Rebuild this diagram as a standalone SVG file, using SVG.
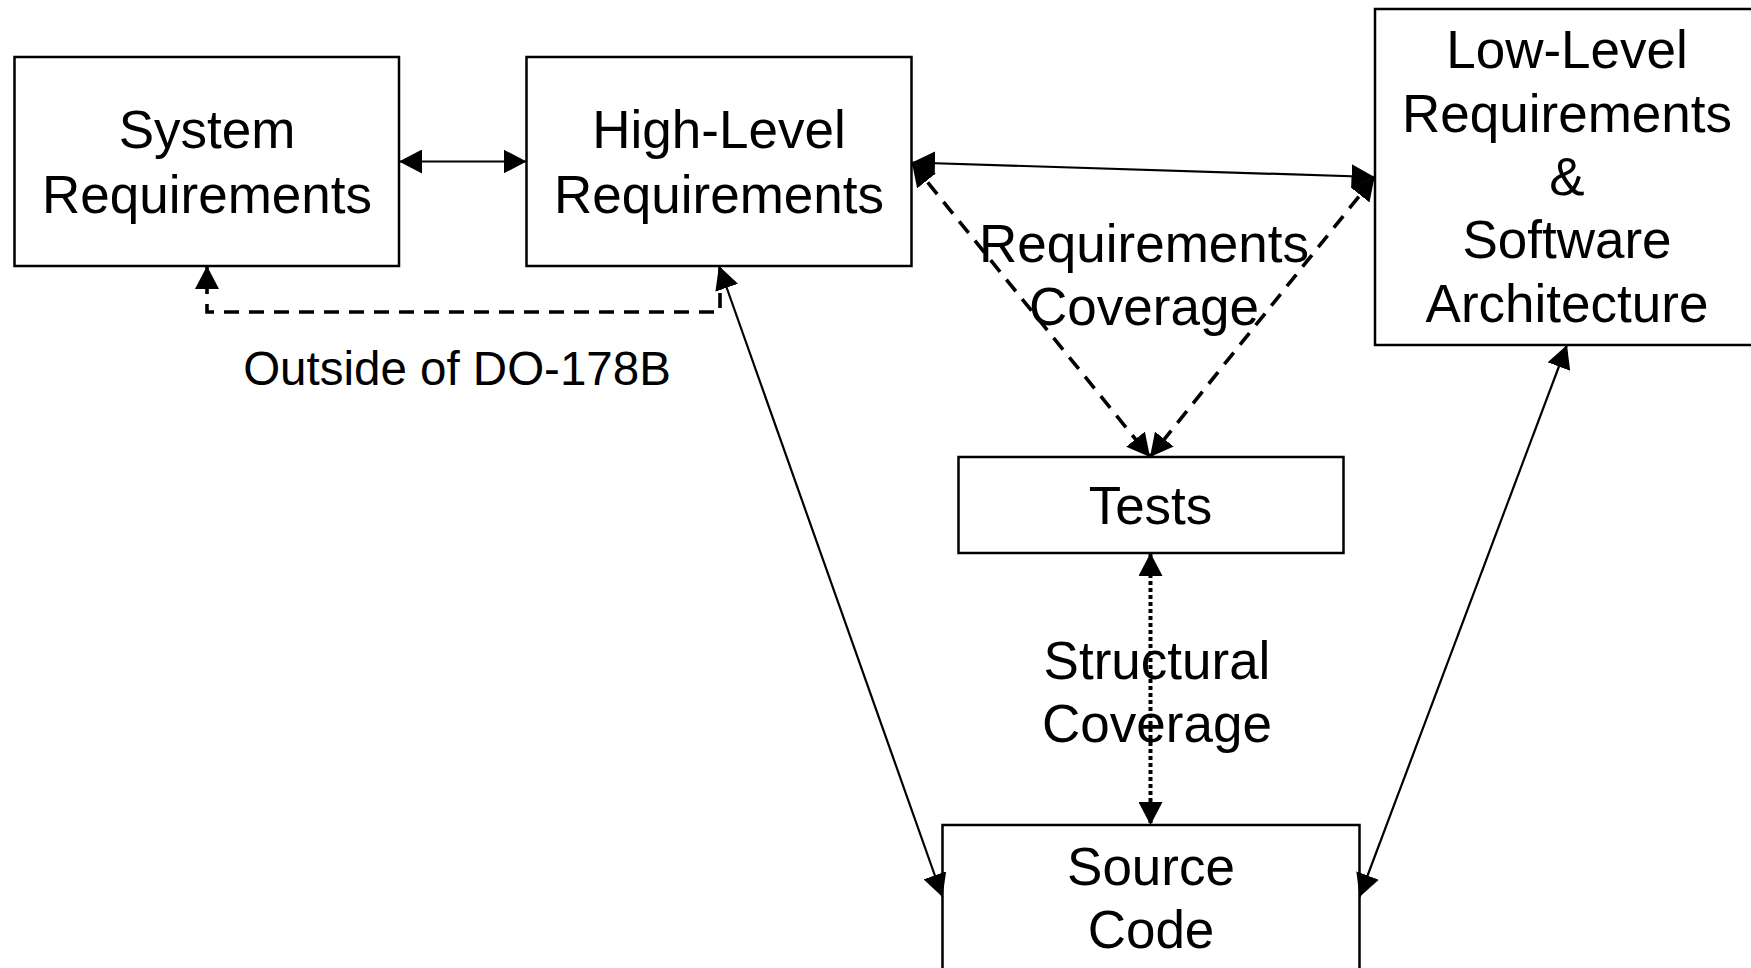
<svg xmlns="http://www.w3.org/2000/svg" width="1751" height="968" viewBox="0 0 1751 968">
<style>
  .box { fill: #ffffff; stroke: #000000; stroke-width: 2.5; }
  .t { font-family: "Liberation Sans", Arial, sans-serif; font-size: 53px; fill: #000000; text-anchor: middle; }
  .lbl { font-family: "Liberation Sans", Arial, sans-serif; font-size: 47.5px; fill: #000000; text-anchor: middle; }
  .solid { fill: none; stroke: #000000; stroke-width: 2.2; }
  .dash { fill: none; stroke: #000000; stroke-width: 3.6; stroke-dasharray: 15 10; }
  .dot { fill: none; stroke: #000000; stroke-width: 4; stroke-dasharray: 4 3; }
</style>
<defs>
  <marker id="ah" markerUnits="userSpaceOnUse" markerWidth="24" markerHeight="24" viewBox="0 0 24 24" refX="23" refY="12" orient="auto-start-reverse">
    <path d="M0,0 L23,12 L0,24 z" fill="#000000"/>
  </marker>
</defs>
<rect width="1751" height="968" fill="#ffffff"/>

<g id="node-system-requirements">
  <rect class="box" x="14.5" y="57" width="384.5" height="209"/>
  <text class="t" x="207" y="148">System</text>
  <text class="t" x="207" y="213">Requirements</text>
</g>
<g id="node-high-level-requirements">
  <rect class="box" x="526.5" y="57" width="385" height="209"/>
  <text class="t" x="719" y="148">High-Level</text>
  <text class="t" x="719" y="213">Requirements</text>
</g>
<g id="node-low-level-requirements">
  <rect class="box" x="1375" y="9" width="400" height="336"/>
  <text class="t" x="1567" y="68">Low-Level</text>
  <text class="t" x="1567" y="131.5">Requirements</text>
  <text class="t" x="1567" y="195">&amp;</text>
  <text class="t" x="1567" y="258">Software</text>
  <text class="t" x="1567" y="321.5">Architecture</text>
</g>
<g id="node-tests">
  <rect class="box" x="958.5" y="457" width="385" height="96"/>
  <text class="t" x="1150.5" y="524">Tests</text>
</g>
<g id="node-source-code">
  <rect class="box" x="942.5" y="825" width="417" height="200"/>
  <text class="t" x="1151" y="885">Source</text>
  <text class="t" x="1151" y="948">Code</text>
</g>

<g id="connectors">
  <line class="solid" x1="399" y1="161.5" x2="526.5" y2="161.5" marker-start="url(#ah)" marker-end="url(#ah)"/>
  <line class="solid" x1="912" y1="162.5" x2="1374.5" y2="177" marker-start="url(#ah)" marker-end="url(#ah)"/>
  <line class="dash" x1="912" y1="163" x2="1150" y2="457" marker-start="url(#ah)" marker-end="url(#ah)"/>
  <line class="dash" x1="1374.5" y1="177" x2="1150" y2="457" marker-start="url(#ah)" marker-end="url(#ah)"/>
  <path class="dash" d="M720,268 V312 H207 V266" marker-end="url(#ah)"/>
  <line class="solid" x1="719" y1="266" x2="942.5" y2="897" marker-start="url(#ah)" marker-end="url(#ah)"/>
  <line class="solid" x1="1567" y1="345" x2="1359.5" y2="897" marker-start="url(#ah)" marker-end="url(#ah)"/>
  <line class="dot" x1="1150.5" y1="553" x2="1150.5" y2="825" marker-start="url(#ah)" marker-end="url(#ah)"/>
</g>

<g id="labels">
  <text class="t" x="1144" y="262">Requirements</text>
  <text class="t" x="1144" y="325">Coverage</text>
  <text class="t" x="1157" y="679">Structural</text>
  <text class="t" x="1157" y="742">Coverage</text>
  <text class="lbl" x="457" y="385">Outside of DO-178B</text>
</g>
</svg>
